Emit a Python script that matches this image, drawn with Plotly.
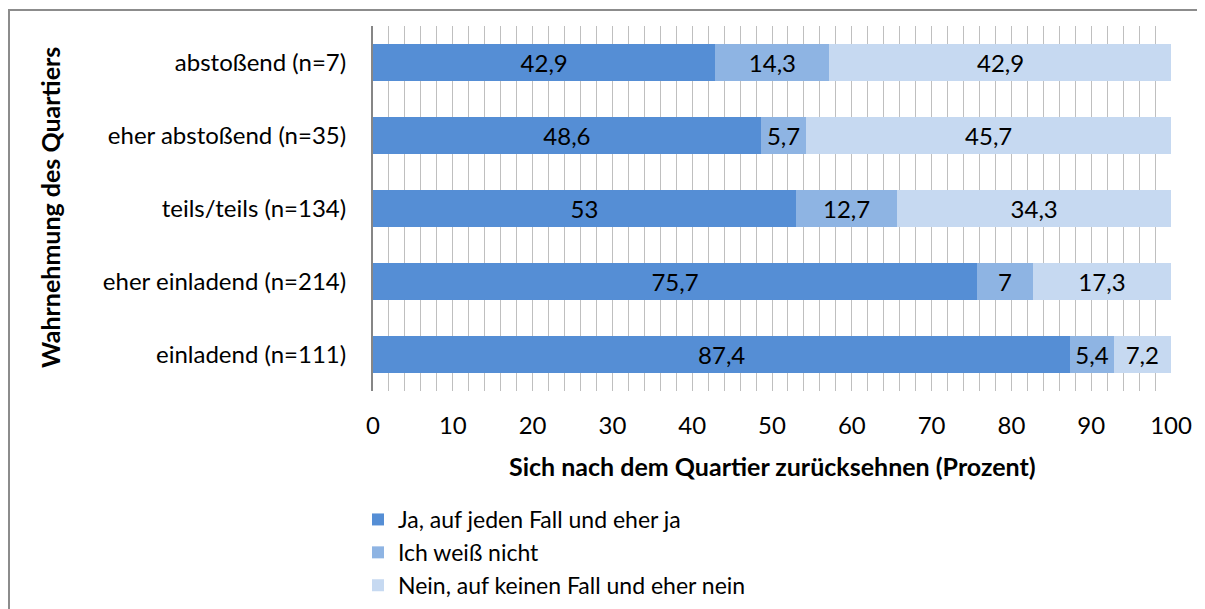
import plotly.graph_objects as go

categories = ["abstoßend (n=7)", "eher abstoßend (n=35)", "teils/teils (n=134)",
              "eher einladend (n=214)", "einladend (n=111)"]
series_names = ["Ja, auf jeden Fall und eher ja", "Ich weiß nicht",
                "Nein, auf keinen Fall und eher nein"]
ja = [42.9, 48.6, 53, 75.7, 87.4]
weiss_nicht = [14.3, 5.7, 12.7, 7, 5.4]
nein = [42.9, 45.7, 34.3, 17.3, 7.2]
x_ticks = [0, 10, 20, 30, 40, 50, 60, 70, 80, 90, 100]

colors = ["#558ED5", "#8EB4E3", "#C6D9F1"]
FONT = "Lato"

def fmt(v):
    return f"{v:g}".replace(".", ",")

fig = go.Figure()
for i, (name, vals) in enumerate(zip(series_names, [ja, weiss_nicht, nein])):
    fig.add_trace(go.Bar(
        y=categories, x=vals, name=name, orientation="h",
        marker=dict(color=colors[i], line=dict(width=0)),
        text=[fmt(v) for v in vals], textposition="inside",
        insidetextanchor="middle",
        textfont=dict(family=FONT, size=24, color="black"),
        legendgroup=f"g{i}", hoverinfo="skip",
    ))

# page has an 8px body margin; figure coords = page coords - 8
OFF = 8
W, H = 1205 - OFF, 609 - OFF
L = 373 - OFF
R = W - (1171 - OFF)
T = 26 - OFF
B = H - (391 - OFF)
pw = W - L - R
ph = H - T - B

def px(xp):  # page x -> paper
    return (xp - OFF - L) / pw

def py(yp):  # page y -> paper
    return (H - B - (yp - OFF)) / ph

fig.update_layout(
    width=W, height=H, barmode="stack", bargap=0.49,
    margin=dict(l=L, r=R, t=T, b=B, pad=0, autoexpand=False),
    paper_bgcolor="white", plot_bgcolor="white",
    font=dict(family=FONT, size=24, color="black"),
    showlegend=True,
    legend=dict(x=px(358), xanchor="left", y=py(498), yanchor="top",
                orientation="v", traceorder="grouped", tracegroupgap=0,
                font=dict(family=FONT, size=23, color="black"),
                bgcolor="rgba(0,0,0,0)", itemwidth=30),
    xaxis=dict(range=[0, 100], tickvals=x_ticks, showgrid=True,
               gridcolor="#BFBFBF", gridwidth=1,
               minor=dict(dtick=2, showgrid=True, gridcolor="#BFBFBF", gridwidth=1),
               zeroline=False, showline=False, ticks="",
               ticklabelstandoff=18,
               tickfont=dict(family=FONT, size=24, color="black"),
               fixedrange=True),
    yaxis=dict(categoryorder="array", categoryarray=categories,
               autorange="reversed", showgrid=False, zeroline=False,
               showline=True, linecolor="#868686", linewidth=2,
               ticks="", ticklabelstandoff=20,
               tickfont=dict(family=FONT, size=24, color="black"),
               fixedrange=True, automargin=False),
)
fig.update_xaxes(automargin=False)

fig.add_annotation(text="<b>Sich nach dem Quartier zurücksehnen (Prozent)</b>",
                   xref="paper", yref="paper", x=px(772),
                   y=py(466), xanchor="center", yanchor="middle",
                   showarrow=False, font=dict(family=FONT, size=25, color="black"))
fig.add_annotation(text="<b>Wahrnehmung des Quartiers</b>",
                   xref="paper", yref="paper", x=px(50),
                   y=py(208), xanchor="center", yanchor="middle",
                   textangle=-90, showarrow=False,
                   font=dict(family=FONT, size=25, color="black"))

# outer chart frame
fig.add_shape(type="rect", xref="paper", yref="paper",
              x0=px(9), x1=px(1240),
              y0=py(660), y1=py(10),
              line=dict(color="#8C8C8C", width=2), fillcolor="rgba(0,0,0,0)",
              layer="below")

fig.write_html("out.html")
